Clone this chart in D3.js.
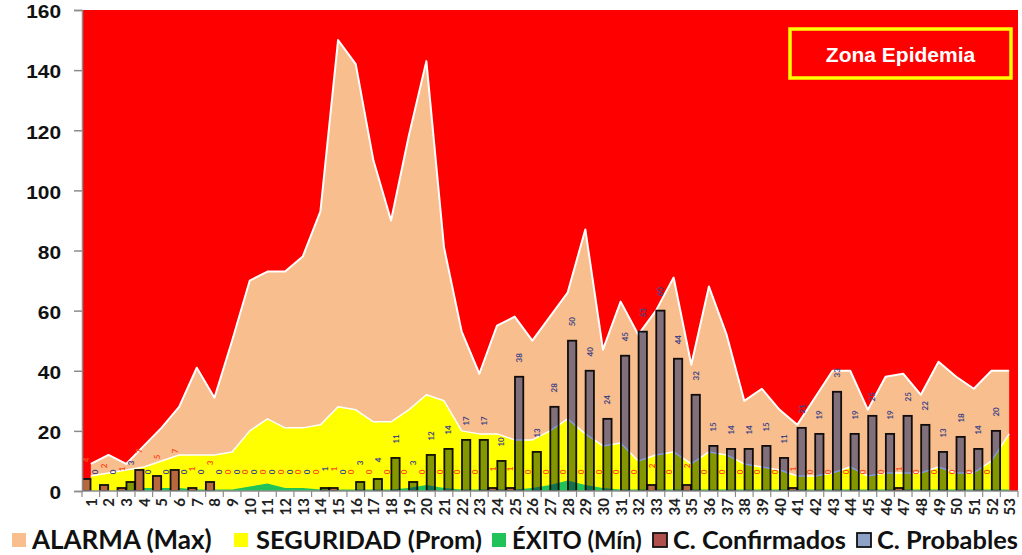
<!DOCTYPE html>
<html><head><meta charset="utf-8">
<script src="https://cdn.jsdelivr.net/npm/d3@7"></script>
<style>
html,body{margin:0;padding:0;background:#fff;}
svg{display:block;}
</style></head>
<body>
<svg id="chart" width="1022" height="555"></svg>
<script>
const weeks = ["1","2","3","4","5","6","7","8","9","10","11","12","13","14","15","16","17","18","19","20","21","22","23","24","25","26","27","28","29","30","31","32","33","34","35","36","37","38","39","40","41","42","43","44","45","46","47","48","49","50","51","52","53"];
const alarma = [9,12,9,15,21,28,41,31,50,70, 73,73,78,93,150,142,110,90,118,143, 81,53,39,55,58,50,58,66,87,47, 63,52,60,71,42,68,52,30,34,27, 22,31,40,40,27,38,39,32,43,38, 34,40,40];
const seguridad = [5,6,7,8,10,12,12,12,13,20, 24,21,21,22,28,27,23,23,27,32, 30,20,19,19,17,17,20,24,19,15, 16,10,12,13,9,13,12,9,8,7, 5,5,6,8,5,6,6,6,8,6, 6,10,19];
const exito = [0,0,0,1,1,1,0.5,0.5,0.5,1.5, 2.5,1,1,0.5,0.5,0.5,0.5,0.5,1,2, 1,0.5,0.5,0.5,0.5,1,2,3.5,2,1, 0.5,0.5,0.5,0.5,0.5,0.5,0.5,0.5,0.5,0.5, 0.5,0.5,0.5,0.5,0.5,0.5,0.5,0.5,0.5,0.5, 0.5,0.5,0.5];
const confirmados = [4,2,1,7,5,7,1,3,0,0, 0,0,0,0,1,0,0,0,0,0, 0,0,0,1,1,0,0,0,0,0, 0,0,2,0,2,0,0,0,0,0, 1,0,0,0,0,0,1,0,0,0, 0,0,null];
const probables = [0,0,3,0,0,0,0,0,0,0, 0,0,0,1,0,3,4,11,3,12, 14,17,17,10,38,13,28,50,40,24, 45,53,60,44,32,15,14,14,15,11, 21,19,33,19,25,19,25,22,13,18, 14,20,null];
const yTicks = [0,20,40,60,80,100,120,140,160];
const legendItems = ["ALARMA (Max)","SEGURIDAD (Prom)","ÉXITO (Mín)","C. Confirmados","C. Probables"];
const zoneLabel = "Zona Epidemia";

const svg = d3.select("#chart");
const L = 82, R = 1018, T = 10, B = 491;
const x = d3.scaleBand().domain(weeks).range([L, R]);
const cx = d => x(d) + x.bandwidth() / 2;
const y = d3.scaleLinear().domain([0, 160]).range([B, T]);

const C = {
  red: "#ff0000", peach: "#f9be8e", yellow: "#ffff00", green: "#22c25a",
  conf: "#b8683c", prob: "#8496dc", confLeg: "#b0504c", probLeg: "#8ea2c8"
};

svg.append("defs").append("clipPath").attr("id", "plotclip")
  .append("rect").attr("x", L).attr("y", T).attr("width", R - L).attr("height", B - T);

svg.append("rect").attr("x", L).attr("y", T).attr("width", R - L).attr("height", B - T).attr("fill", C.red);

const g = svg.append("g").attr("clip-path", "url(#plotclip)");
const areaGen = d3.area().x((d, i) => cx(weeks[i])).y0(y(0)).y1(d => y(d));
const lineGen = d3.line().x((d, i) => cx(weeks[i])).y(d => y(d));

g.append("path").datum(alarma).attr("d", areaGen).attr("fill", C.peach);
g.append("path").datum(alarma).attr("d", lineGen).attr("fill", "none").attr("stroke", "#fff").attr("stroke-width", 2).attr("stroke-linejoin", "round");
g.append("path").datum(seguridad).attr("d", areaGen).attr("fill", C.yellow);
g.append("path").datum(seguridad).attr("d", lineGen).attr("fill", "none").attr("stroke", "#fff").attr("stroke-width", 1.5).attr("stroke-linejoin", "round");
g.append("path").datum(exito).attr("d", areaGen).attr("fill", C.green);

const bw = x.bandwidth() * 0.47;
const gap = 0.3;
const weekIdx = d3.range(weeks.length);

g.selectAll("rect.conf").data(weekIdx.filter(i => confirmados[i] != null && confirmados[i] > 0)).join("rect")
  .attr("class", "conf")
  .attr("x", i => cx(weeks[i]) - bw - gap).attr("width", bw)
  .attr("y", i => y(confirmados[i])).attr("height", i => y(0) - y(confirmados[i]))
  .attr("fill", C.conf).attr("stroke", "#111").attr("stroke-width", 1.8);

g.selectAll("rect.prob").data(weekIdx.filter(i => probables[i] != null && probables[i] > 0)).join("rect")
  .attr("class", "prob")
  .attr("x", i => cx(weeks[i]) + gap).attr("width", bw)
  .attr("y", i => y(probables[i])).attr("height", i => y(0) - y(probables[i]))
  .attr("fill", C.prob).style("mix-blend-mode", "multiply")
  .attr("stroke", "#111").attr("stroke-width", 1.8);

// data labels
const lab = svg.append("g").attr("font-family", "Lato, 'Liberation Sans', sans-serif").attr("font-weight", 700).attr("font-size", 8);
lab.selectAll("text.cl").data(weekIdx.filter(i => confirmados[i] != null)).join("text")
  .attr("class", "cl")
  .attr("transform", i => `translate(${cx(weeks[i]) - bw / 2 - gap},${y(confirmados[i]) - 19}) rotate(-90)`)
  .attr("text-anchor", "middle").attr("dominant-baseline", "central")
  .attr("fill", "#ff4a1a").text(i => confirmados[i]);
lab.selectAll("text.pl").data(weekIdx.filter(i => probables[i] != null)).join("text")
  .attr("class", "pl")
  .attr("transform", i => `translate(${cx(weeks[i]) + bw / 2 + gap},${y(probables[i]) - 19}) rotate(-90)`)
  .attr("text-anchor", "middle").attr("dominant-baseline", "central")
  .attr("fill", "#3c4486").text(i => probables[i]);

// y axis
const yAxis = svg.append("g").attr("transform", `translate(${L},0)`)
  .call(d3.axisLeft(y).tickValues(yTicks).tickSize(8).tickPadding(11));
yAxis.select(".domain").attr("stroke", "#8c8c8c").attr("stroke-width", 1.5);
yAxis.selectAll(".tick line").attr("stroke", "#8c8c8c").attr("stroke-width", 1.5);
yAxis.selectAll(".tick text").attr("font-family", "'Liberation Sans', Arial, sans-serif")
  .attr("font-weight", 700).attr("font-size", 19).attr("fill", "#111")
  .attr("dy", null).attr("y", 7.8)
  .attr("transform", "scale(1.1,1)");

// x axis
const xAxisG = svg.append("g").attr("transform", `translate(0,${B})`);
xAxisG.append("line").attr("x1", L).attr("x2", R).attr("stroke", "#8c8c8c").attr("stroke-width", 1.5);
xAxisG.selectAll("line.tk").data(weeks.concat(["__end"])).join("line").attr("class", "tk")
  .attr("x1", d => d === "__end" ? R : x(d)).attr("x2", d => d === "__end" ? R : x(d))
  .attr("y1", 0).attr("y2", 6).attr("stroke", "#8c8c8c").attr("stroke-width", 1.2);
xAxisG.selectAll("text").data(weeks).join("text")
  .attr("transform", d => `translate(${cx(d)},7) rotate(-90)`)
  .attr("text-anchor", "end").attr("dominant-baseline", "central")
  .attr("font-family", "Lato, 'Liberation Sans', sans-serif").attr("font-weight", 700)
  .attr("font-size", 15).attr("fill", "#222").text(d => d);

// zone label
svg.append("rect").attr("x", 790).attr("y", 29).attr("width", 221).attr("height", 49)
  .attr("fill", "none").attr("stroke", C.yellow).attr("stroke-width", 3.5);
svg.append("text").attr("x", 900.5).attr("y", 54).attr("text-anchor", "middle").attr("dominant-baseline", "central")
  .attr("font-family", "'Liberation Sans', Arial, sans-serif").attr("font-weight", 700).attr("font-size", 21)
  .attr("fill", "#fff").text(zoneLabel);

// legend
const legSw = [C.peach, C.yellow, C.green, C.confLeg, C.probLeg];
const legBorder = [null, null, null, "#111", "#111"];
const legSq = [12, 234, 492, 653, 857];
const legTx = [32, 256, 512, 673, 877];
const legEnd = [222, 482, 642, 846, 1018];
const lg = svg.append("g");
legendItems.forEach((t, i) => {
  lg.append("rect").attr("x", legSq[i]).attr("y", 533).attr("width", 14).attr("height", 14)
    .attr("fill", legSw[i]).attr("stroke", legBorder[i] || "none").attr("stroke-width", 1.8);
  const tx = lg.append("text").attr("x", legTx[i]).attr("y", 549)
    .attr("font-family", "Lato, 'Open Sans', sans-serif").attr("font-weight", 700)
    .attr("font-size", 22).attr("fill", "#111").text(t);
  const w = tx.node().getComputedTextLength();
  const target = legEnd[i] - legTx[i];
  tx.attr("font-size", Math.min(26, 22 * target / w));
});
</script>
</body></html>
